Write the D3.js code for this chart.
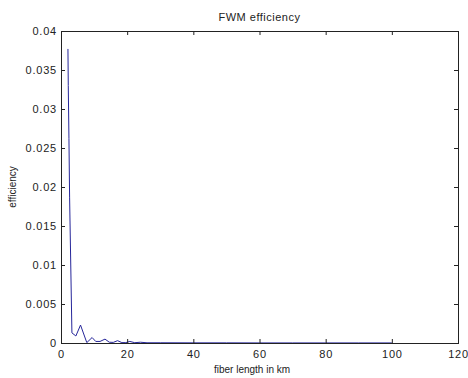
<!DOCTYPE html>
<html>
<head>
<meta charset="utf-8">
<script src="https://cdn.jsdelivr.net/npm/d3@7"></script>
<style>
  body { margin: 0; background: #fff; }
  text { font-family: "Liberation Sans", Arial, sans-serif; }
</style>
</head>
<body>
<div id="chart"></div>
<script>
// Data
const lengthKm = [2.1, 2.2, 2.4, 2.6, 3.3, 4.5, 5.9, 7.8, 9.4, 10.5, 11.8, 13.3, 14.6, 15.8, 17.1, 18.4, 19.6, 20.8, 22.3, 24, 26, 30, 40, 50, 60, 70, 80, 90, 100];
const efficiency = [0.0377, 0.033, 0.0262, 0.0187, 0.0013, 0.0009, 0.0023, 0.00005, 0.0007, 0.0002, 0.0002, 0.0005, 0.0001, 0.00008, 0.0003, 0.00005, 0.00005, 0.0002, 0.00004, 0.0001, 0.00003, 0.00003, 0.00002, 0.00002, 0.00001, 0.00001, 0.00001, 0.00001, 0.00001];
const xTicks = [0, 20, 40, 60, 80, 100, 120];
const yTicks = [0, 0.005, 0.01, 0.015, 0.02, 0.025, 0.03, 0.035, 0.04];

const width = 468, height = 378;
const margin = { top: 31, right: 10, bottom: 35, left: 61 };
const innerW = width - margin.left - margin.right;
const innerH = height - margin.top - margin.bottom;

const x = d3.scaleLinear().domain([0, 120]).range([margin.left, margin.left + innerW]);
const y = d3.scaleLinear().domain([0, 0.04]).range([margin.top + innerH, margin.top]);

const svg = d3.select("#chart").append("svg")
    .attr("width", width)
    .attr("height", height);

// line
const line = d3.line().x(d => x(d[0])).y(d => y(d[1]));
svg.append("path")
    .datum(d3.zip(lengthKm, efficiency))
    .attr("d", line)
    .attr("fill", "none")
    .attr("stroke", "#26269a")
    .attr("stroke-width", 1);

// axes (ticks inward, mirrored on top/right)
const tickLen = 4;
const fmtY = d => d === 0 ? "0" : String(+d.toFixed(3));
svg.append("g")
    .attr("transform", `translate(0,${margin.top + innerH})`)
    .call(d3.axisBottom(x).tickValues(xTicks).tickSize(-tickLen).tickPadding(7).tickFormat(d3.format("d")))
    .call(g => g.select(".domain").remove());
svg.append("g")
    .attr("transform", `translate(0,${margin.top})`)
    .call(d3.axisTop(x).tickValues(xTicks).tickSize(-tickLen).tickFormat(""))
    .call(g => g.select(".domain").remove());
svg.append("g")
    .attr("transform", `translate(${margin.left},0)`)
    .call(d3.axisLeft(y).tickValues(yTicks).tickSize(-tickLen).tickPadding(4).tickFormat(fmtY))
    .call(g => g.select(".domain").remove());
svg.append("g")
    .attr("transform", `translate(${margin.left + innerW},0)`)
    .call(d3.axisRight(y).tickValues(yTicks).tickSize(-tickLen).tickFormat(""))
    .call(g => g.select(".domain").remove());

svg.selectAll(".tick text")
    .attr("font-size", 11)
    .attr("letter-spacing", "0.8px")
    .attr("fill", "#222");
svg.selectAll(".tick line").attr("stroke", "#222");

// box
svg.append("rect")
    .attr("x", margin.left + 0.5)
    .attr("y", margin.top + 0.5)
    .attr("width", innerW)
    .attr("height", innerH)
    .attr("fill", "none")
    .attr("stroke", "#222");

// title and labels
svg.append("text")
    .attr("x", margin.left + innerW / 2)
    .attr("y", 21)
    .attr("text-anchor", "middle")
    .attr("font-size", 11)
    .attr("letter-spacing", "0.5px")
    .attr("fill", "#222")
    .text("FWM efficiency");
svg.append("text")
    .attr("x", 252)
    .attr("y", 373)
    .attr("text-anchor", "middle")
    .attr("font-size", 10)
    .attr("fill", "#222")
    .text("fiber length in km");
svg.append("text")
    .attr("transform", `translate(16,${margin.top + innerH / 2}) rotate(-90)`)
    .attr("text-anchor", "middle")
    .attr("font-size", 10)
    .attr("fill", "#222")
    .text("efficiency");
</script>
</body>
</html>
